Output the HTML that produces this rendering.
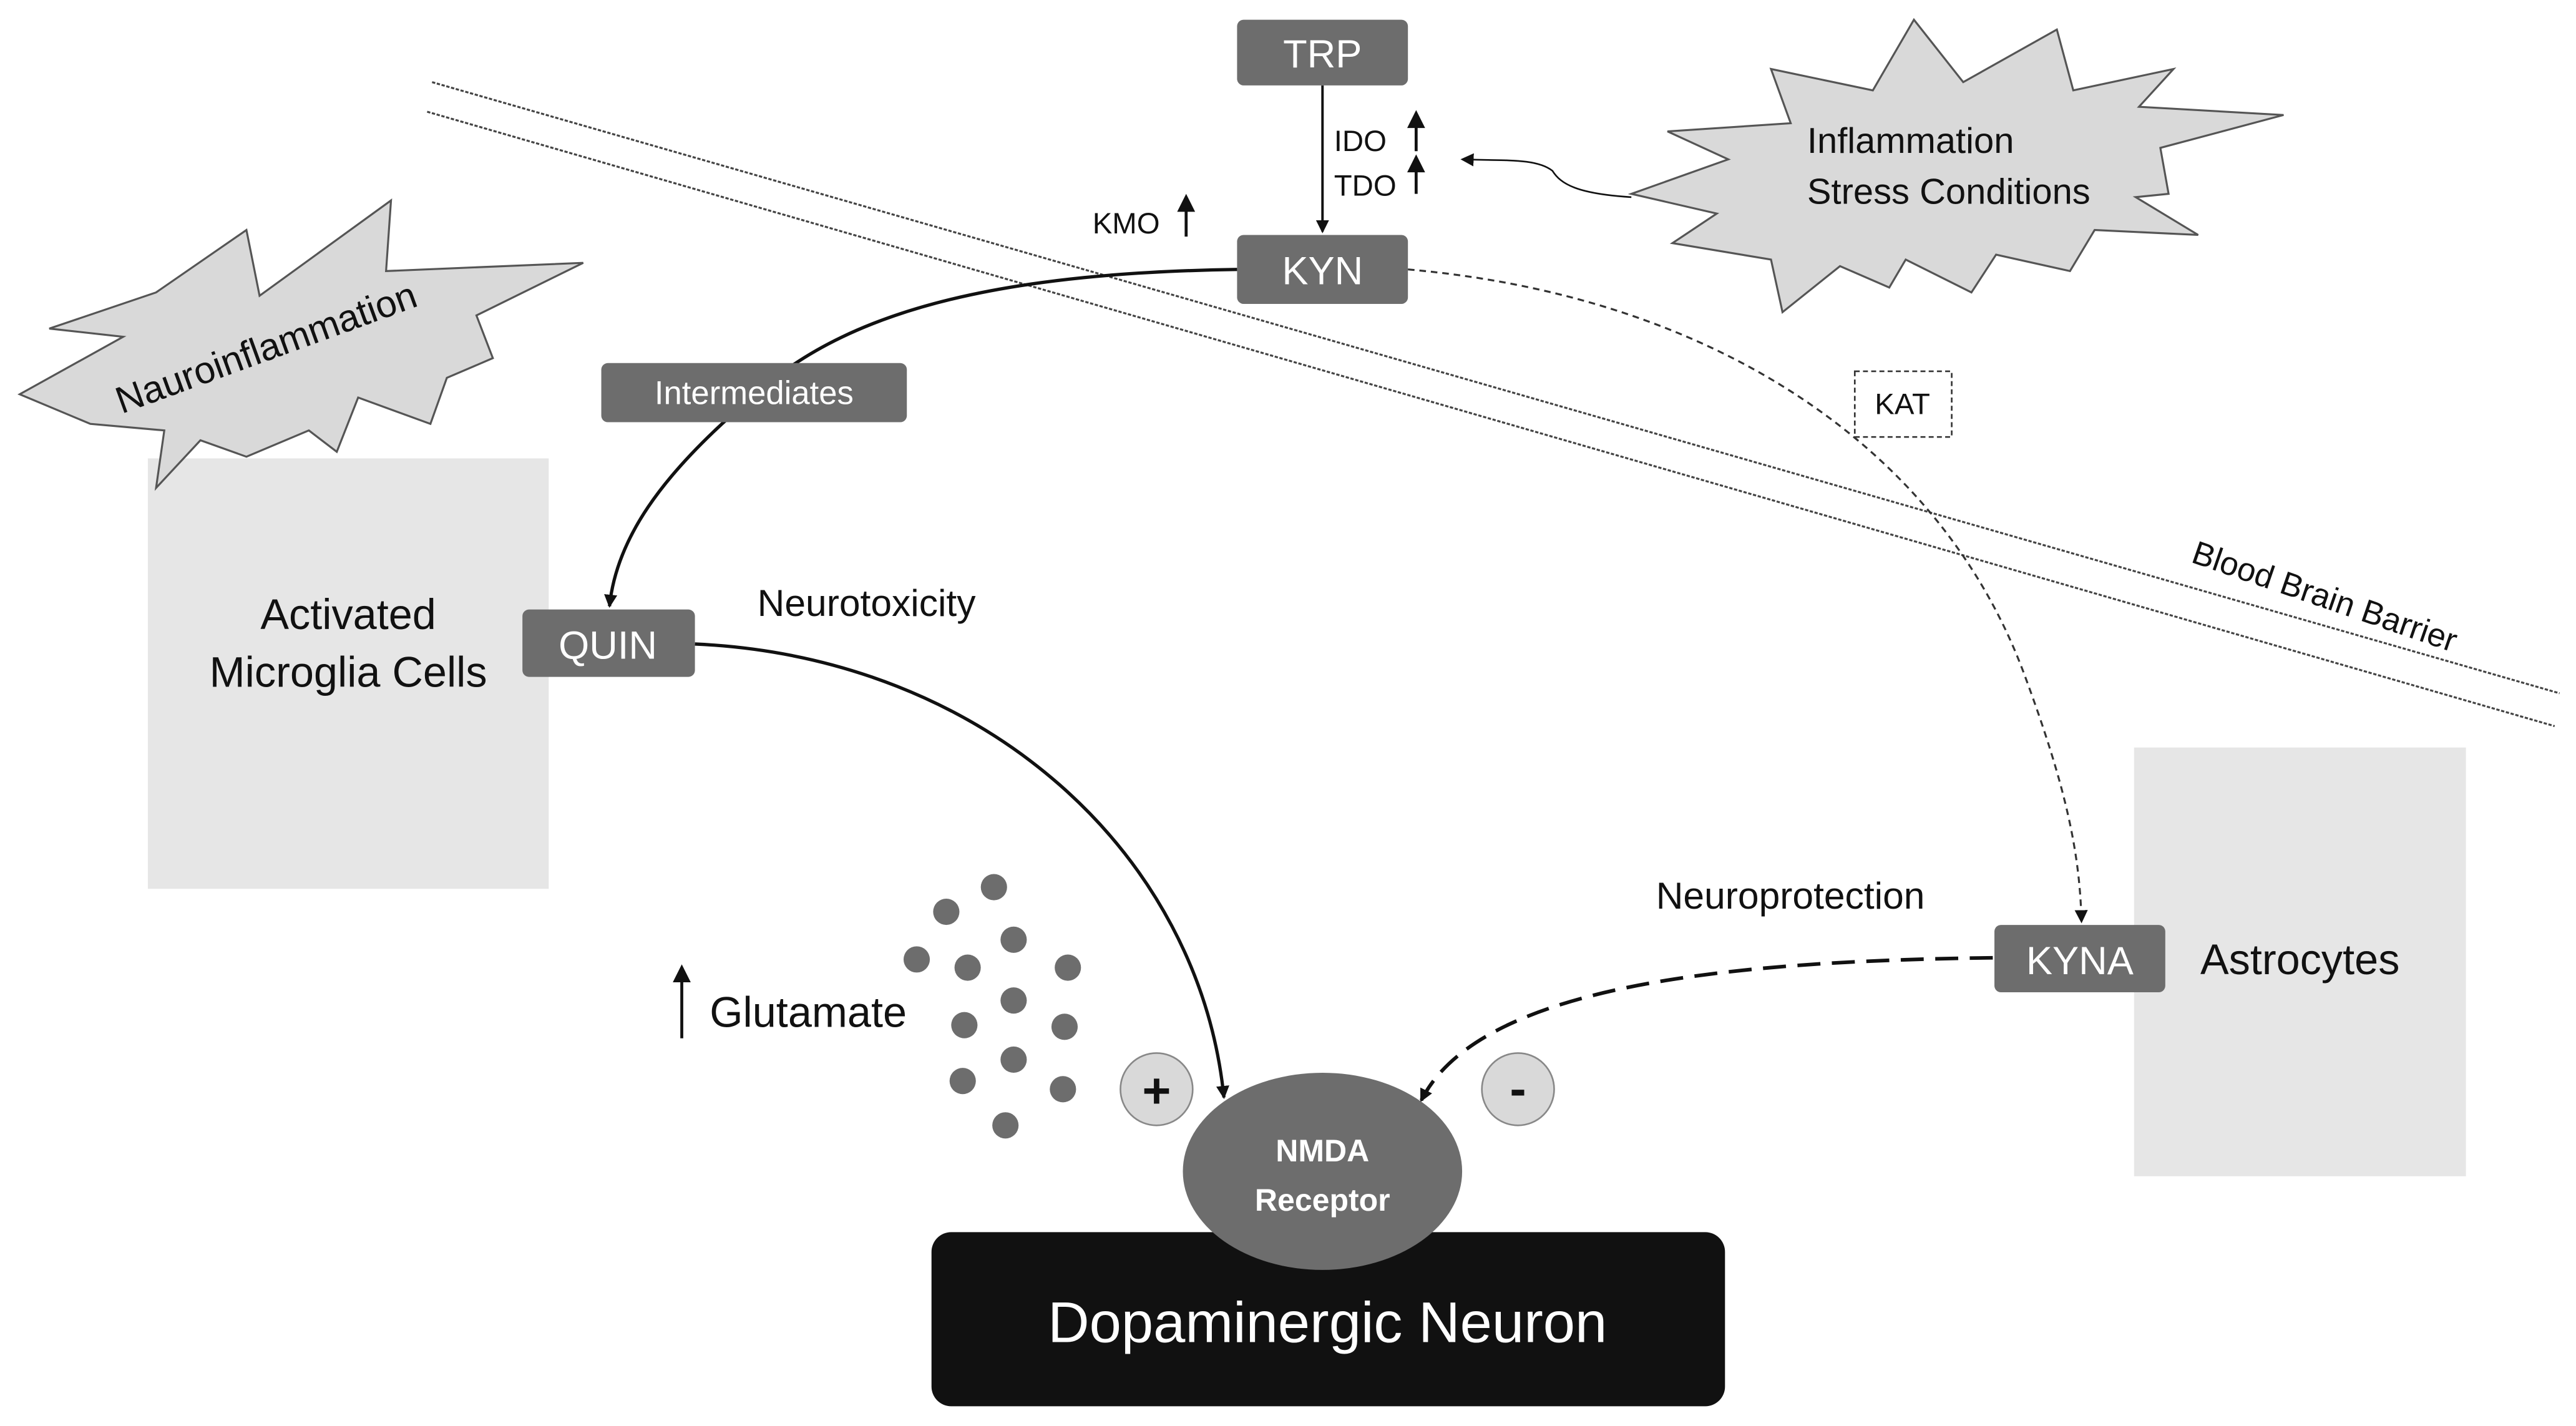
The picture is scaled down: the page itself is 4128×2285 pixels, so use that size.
<!DOCTYPE html>
<html><head><meta charset="utf-8"><style>html,body{margin:0;padding:0;background:#fff}svg{display:block}</style></head><body>
<svg width="4128" height="2285" viewBox="0 0 1568 868" preserveAspectRatio="none" xmlns="http://www.w3.org/2000/svg" font-family="Liberation Sans, sans-serif">
<defs><marker id="ah" markerWidth="8" markerHeight="8" refX="7" refY="4" orient="auto" markerUnits="userSpaceOnUse"><path d="M0,0 L8,4 L0,8 z" fill="#111"/></marker></defs>
<rect width="1568" height="868" fill="#fff"/>
<!-- barrier -->
<line x1="263" y1="50" x2="1558" y2="422" stroke="#444" stroke-width="1.2" stroke-dasharray="2 1"/>
<line x1="260" y1="68" x2="1555" y2="442" stroke="#444" stroke-width="1.2" stroke-dasharray="2 1"/>
<text x="1333" y="342" font-size="20" transform="rotate(19 1333 342)" fill="#111">Blood Brain Barrier</text>
<!-- cell rects -->
<rect x="90" y="279" width="244" height="262" fill="#e6e6e6"/>
<rect x="1299" y="455" width="202" height="261" fill="#e6e6e6"/>
<!-- stars -->
<polygon points="12,240 75,205 30,200 95,178 150,140 158,180 238,122 235,165 355,160 290,192 300,218 272,230 262,258 218,242 205,275 188,262 150,278 122,268 95,297 100,262 55,258" fill="#d9d9d9" stroke="#555" stroke-width="1.2"/>
<text x="74" y="252" font-size="23" transform="rotate(-20 74 252)" fill="#111">Nauroinflammation</text>
<polygon points="993,118 1052,97 1015,80 1090,75 1078,42 1140,55 1165,12 1195,50 1252,18 1262,55 1323,42 1302,65 1390,70 1315,90 1320,118 1300,120 1338,143 1275,140 1260,165 1215,155 1200,178 1160,158 1150,175 1120,162 1085,190 1078,158 1018,148 1045,130" fill="#d9d9d9" stroke="#555" stroke-width="1.2"/>
<text x="1100" y="93" font-size="22" fill="#111">Inflammation</text>
<text x="1100" y="124" font-size="22" fill="#111">Stress Conditions</text>
<!-- connectors -->
<line x1="805" y1="52" x2="805" y2="141" stroke="#111" stroke-width="1.5" marker-end="url(#ah)"/>
<path d="M993,120 C960,118 950,112 945,104 C935,96 915,98 890,97" fill="none" stroke="#111" stroke-width="1" marker-end="url(#ah)"/>
<path d="M753,164 C620,166 520,185 460,240 C400,290 375,330 371,369" fill="none" stroke="#111" stroke-width="2" marker-end="url(#ah)"/>
<path d="M857,164 C1040,180 1180,270 1232,410 C1258,480 1266,520 1267,561" fill="none" stroke="#333" stroke-width="1.2" stroke-dasharray="4 3" marker-end="url(#ah)"/>
<path d="M423,392 C600,400 730,520 745,668" fill="none" stroke="#111" stroke-width="2" marker-end="url(#ah)"/>
<path d="M1213,583 C1050,585 900,600 865,670" fill="none" stroke="#111" stroke-width="2.2" stroke-dasharray="14 7" marker-end="url(#ah)"/>
<!-- small arrows -->
<g stroke="#111" stroke-width="1.8" fill="#111">
<line x1="862" y1="92" x2="862" y2="74"/><path d="M858,77 L862,69 L866,77z"/>
<line x1="862" y1="118" x2="862" y2="101"/><path d="M858,104 L862,96 L866,104z"/>
<line x1="722" y1="144" x2="722" y2="125"/><path d="M718,128 L722,120 L726,128z"/>
<line x1="415" y1="632" x2="415" y2="594"/><path d="M411,597 L415,589 L419,597z"/>
</g>
<text x="812" y="92" font-size="18" fill="#111">IDO</text>
<text x="812" y="119" font-size="18" fill="#111">TDO</text>
<text x="665" y="142" font-size="18" fill="#111">KMO</text>
<rect x="1129" y="226" width="59" height="40" fill="#fff" stroke="#333" stroke-dasharray="3 2"/>
<text x="1158" y="252" font-size="18" text-anchor="middle" fill="#111">KAT</text>
<!-- boxes -->
<g fill="#6d6d6d">
<rect x="753" y="12" width="104" height="40" rx="4"/>
<rect x="753" y="143" width="104" height="42" rx="4"/>
<rect x="366" y="221" width="186" height="36" rx="4"/>
<rect x="318" y="371" width="105" height="41" rx="4"/>
<rect x="1214" y="563" width="104" height="41" rx="4"/>
</g>
<g fill="#fff" text-anchor="middle">
<text x="805" y="41" font-size="24">TRP</text>
<text x="805" y="173" font-size="24">KYN</text>
<text x="459" y="246" font-size="20">Intermediates</text>
<text x="370" y="401" font-size="24">QUIN</text>
<text x="1266" y="593" font-size="24">KYNA</text>
</g>
<g fill="#111" font-size="26" text-anchor="middle">
<text x="212" y="383">Activated</text>
<text x="212" y="418">Microglia Cells</text>
<text x="1400" y="593">Astrocytes</text>
</g>
<text x="461" y="375" font-size="23" fill="#111">Neurotoxicity</text>
<text x="1008" y="553" font-size="23" fill="#111">Neuroprotection</text>
<text x="432" y="625" font-size="26" fill="#111">Glutamate</text>
<!-- dots -->
<g fill="#6d6d6d">
<circle cx="605" cy="540" r="8"/><circle cx="576" cy="555" r="8"/><circle cx="617" cy="572" r="8"/>
<circle cx="558" cy="584" r="8"/><circle cx="589" cy="589" r="8"/><circle cx="650" cy="589" r="8"/>
<circle cx="617" cy="609" r="8"/><circle cx="587" cy="624" r="8"/><circle cx="648" cy="625" r="8"/>
<circle cx="617" cy="645" r="8"/><circle cx="586" cy="658" r="8"/><circle cx="647" cy="663" r="8"/>
<circle cx="612" cy="685" r="8"/>
</g>
<circle cx="704" cy="663" r="22" fill="#d9d9d9" stroke="#888"/>
<text x="704" y="674" font-size="30" font-weight="bold" text-anchor="middle" fill="#111">+</text>
<circle cx="924" cy="663" r="22" fill="#d9d9d9" stroke="#888"/>
<text x="924" y="673" font-size="30" font-weight="bold" text-anchor="middle" fill="#111">-</text>
<!-- neuron -->
<rect x="567" y="750" width="483" height="106" rx="12" fill="#111"/>
<text x="808" y="817" font-size="35" text-anchor="middle" fill="#fff">Dopaminergic Neuron</text>
<ellipse cx="805" cy="713" rx="85" ry="60" fill="#6d6d6d"/>
<text x="805" y="707" font-size="19" font-weight="bold" text-anchor="middle" fill="#fff">NMDA</text>
<text x="805" y="737" font-size="19" font-weight="bold" text-anchor="middle" fill="#fff">Receptor</text>
</svg>
</body></html>
